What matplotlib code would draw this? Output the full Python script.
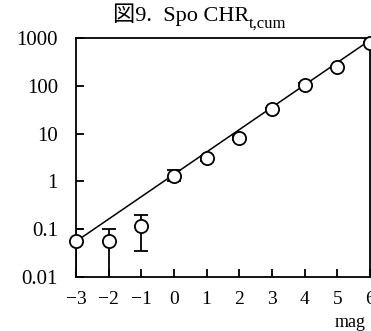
import numpy as np
import matplotlib
matplotlib.use('Agg')
import matplotlib.pyplot as plt

# data
mag = [-3, -2, -1, 0, 1, 2, 3, 4, 5, 6]
chr_cum = [0.055, 0.057, 0.115, 1.3, 3.0, 8.0, 32, 105, 250, 800]
err_low = [0.001, 0.001, 0.035, 1.0, 2.6, 7.2, 29, 97, 235, 760]
err_high = [0.1, 0.1, 0.2, 1.7, 3.4, 9.0, 35, 113, 265, 840]

# fitted line end points
fit_x = [-3, 6]
fit_y = [0.055, 900]

yticks = [0.01, 0.1, 1, 10, 100, 1000]
ytick_labels = ['0.01', '0.1', '1', '10', '100', '1000']

serif = ['Liberation Serif', 'Noto Sans CJK JP', 'DejaVu Serif']
plt.rcParams['font.family'] = serif

fig = plt.figure(figsize=(3.71, 3.31), dpi=100)
ax = fig.add_axes([0.205, 0.164, 0.792, 0.721])

y = np.array(chr_cum)
lo = y - np.array(err_low)
hi = np.array(err_high) - y

ax.plot(fit_x, fit_y, color='black', lw=1.1, zorder=2)
# error bars are clipped at the axis, markers are not
ax.errorbar(mag, y, yerr=[lo, hi], fmt='none', ecolor='black',
            elinewidth=1.3, capsize=5, capthick=1.3, zorder=3)
ax.plot(mag, y, 'o', mfc='white', mec='black', mew=1.3, ms=9.5,
        zorder=4, clip_on=False)

ax.set_yscale('log')
ax.set_xlim(-3, 6)
ax.set_ylim(0.01, 1000)
ax.set_xticks(mag)
ax.set_xticklabels([str(m).replace('-', '\u2212') for m in mag])
ax.set_yticks(yticks)
ax.set_yticklabels(ytick_labels)
ax.minorticks_off()
ax.tick_params(direction='in', length=6, width=1.3, labelsize=14)
ax.tick_params(axis='x', pad=10)
ax.tick_params(axis='y', pad=13, labelsize=15)
for s in ax.spines.values():
    s.set_linewidth(1.3)

ax.text(0.88, -0.155, 'mag', transform=ax.transAxes, ha='left', va='top',
        fontsize=13)

# title with subscript
t1 = fig.text(0.5, 0.955, '\u56f39.  Spo CHR', ha='center', va='center', fontsize=16)
fig.canvas.draw()
fw = fig.bbox.width
bb = t1.get_window_extent()
t1.set_position(((113 + bb.width / 2) / fw, 0.955))
fig.canvas.draw()
bb = t1.get_window_extent()
fig.text(bb.x1 / fw, 0.93, 't,cum', ha='left', va='center', fontsize=12)

plt.savefig('out.png', dpi=100)
